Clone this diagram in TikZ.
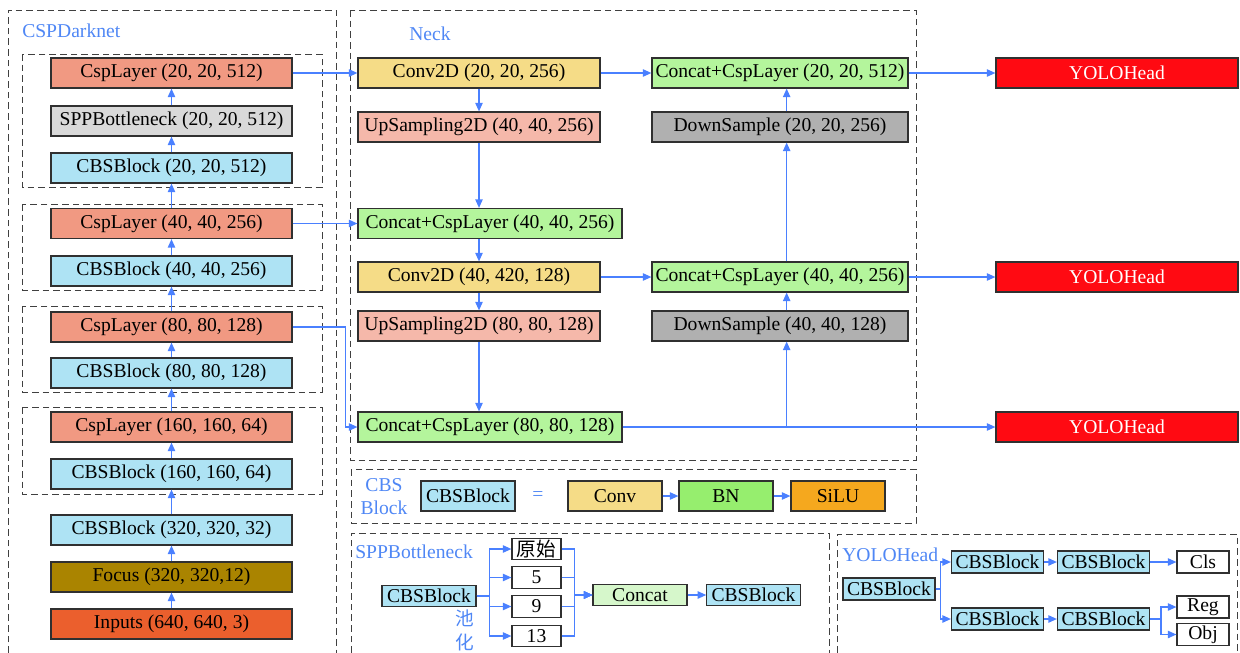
\documentclass[tikz,border=0pt]{standalone}
\usepackage{fontspec}
\setmainfont{Liberation Serif}
\newfontfamily\cjkfont{Noto Sans CJK SC}
\usetikzlibrary{arrows.meta}
\definecolor{lineblue}{HTML}{4A80FF}
\definecolor{labelblue}{HTML}{4F87F5}
\definecolor{framegray}{HTML}{404040}
\definecolor{edgegray}{HTML}{303030}
\definecolor{cspsalmon}{HTML}{F19982}
\definecolor{sppgray}{HTML}{D9D9D9}
\definecolor{cbsblue}{HTML}{AEE3F4}
\definecolor{focusolive}{HTML}{AA8400}
\definecolor{inputorange}{HTML}{EB5F2D}
\definecolor{convyellow}{HTML}{F5DC87}
\definecolor{uppink}{HTML}{F5B8AA}
\definecolor{concatgreen}{HTML}{B4F59C}
\definecolor{downgray}{HTML}{B0B0B0}
\definecolor{headred}{HTML}{FF0A12}
\definecolor{bngreen}{HTML}{96EE6E}
\definecolor{siluorange}{HTML}{F5A81E}
\definecolor{catlight}{HTML}{D6F7CB}
\newcommand{\figuretext}{\fontsize{14.7}{17.25}\selectfont}
\newcommand{\pooltext}{\fontsize{14}{18}\selectfont\cjkfont}

\begin{document}
\begin{tikzpicture}[x=0.75pt,y=-0.75pt,font=\figuretext,
  blk/.style={draw=edgegray,line width=0.8pt,inner sep=0pt,minimum height=22.5pt},
  bone/.style={blk,minimum width=180.75pt},
  neckbox/.style={blk,minimum width=181.5pt},
  catbox/.style={blk,fill=concatgreen,minimum width=198pt},
  panbox/.style={blk,minimum width=192pt},
  headbox/.style={blk,fill=headred,text=white,minimum width=181.5pt},
  unitbox/.style={blk,minimum width=70.5pt},
  tinybox/.style={draw=edgegray,line width=0.8pt,inner sep=0pt,minimum height=16pt},
  frame/.style={draw=framegray,line width=0.75pt,dash pattern=on 5pt off 3pt},
  flow/.style={draw=lineblue,line width=1.2pt,-{Triangle[length=6.5pt,width=5.5pt]}},
  title/.style={text=labelblue,inner sep=0pt}]
\useasboundingbox (0,0) rectangle (1240,653);

\draw[frame] (8,653) |- (336,10) -- (336,653);
\draw[frame] (22,54) rectangle (322,187);
\draw[frame] (22,204) rectangle (322,290);
\draw[frame] (22,306) rectangle (322,392);
\draw[frame] (22,407) rectangle (322,494);
\draw[frame] (350,10) rectangle (916,460);
\draw[frame] (351,469) rectangle (916,523);
\draw[frame] (351,653) |- (829,533) -- (829,653);
\draw[frame] (837,653) |- (1237,534) -- (1237,653);

\node[title,anchor=west] (darktitle) at (22,31) {CSPDarknet};
\node[bone,fill=cspsalmon] (csp20) at (171.5,73) {CspLayer (20, 20, 512)};
\node[bone,fill=sppgray] (spp) at (171.5,121) {SPPBottleneck (20, 20, 512)};
\node[bone,fill=cbsblue] (cbs20) at (171.5,168) {CBSBlock (20, 20, 512)};
\node[bone,fill=cspsalmon] (csp40) at (171.5,223.5) {CspLayer (40, 40, 256)};
\node[bone,fill=cbsblue] (cbs40) at (171.5,271) {CBSBlock (40, 40, 256)};
\node[bone,fill=cspsalmon] (csp80) at (171.5,327) {CspLayer (80, 80, 128)};
\node[bone,fill=cbsblue] (cbs80) at (171.5,373) {CBSBlock (80, 80, 128)};
\node[bone,fill=cspsalmon] (csp160) at (171.5,427) {CspLayer (160, 160, 64)};
\node[bone,fill=cbsblue] (cbs160) at (171.5,474) {CBSBlock (160, 160, 64)};
\node[bone,fill=cbsblue] (cbs320) at (171.5,530) {CBSBlock (320, 320, 32)};
\node[bone,fill=focusolive] (focus) at (171.5,577) {Focus (320, 320,12)};
\node[bone,fill=inputorange] (inputs) at (171.5,624) {Inputs (640, 640, 3)};

\node[title] (necktitle) at (430,34) {Neck};
\node[neckbox,fill=convyellow] (conv20) at (479,73) {Conv2D (20, 20, 256)};
\node[neckbox,fill=uppink] (up40) at (479,127) {UpSampling2D (40, 40, 256)};
\node[catbox] (cat40) at (490,223.5) {Concat+CspLayer (40, 40, 256)};
\node[neckbox,fill=convyellow] (conv40) at (479,277) {Conv2D (40, 420, 128)};
\node[neckbox,fill=uppink] (up80) at (479,326) {UpSampling2D (80, 80, 128)};
\node[catbox] (cat80) at (490,427) {Concat+CspLayer (80, 80, 128)};
\node[panbox,fill=concatgreen] (pan20) at (780,73) {Concat+CspLayer (20, 20, 512)};
\node[panbox,fill=downgray] (down20) at (780,127) {DownSample (20, 20, 256)};
\node[panbox,fill=concatgreen] (pan40) at (780,277) {Concat+CspLayer (40, 40, 256)};
\node[panbox,fill=downgray] (down40) at (780,326) {DownSample (40, 40, 128)};
\node[headbox] (head20) at (1117,73) {YOLOHead};
\node[headbox] (head40) at (1117,277) {YOLOHead};
\node[headbox] (head80) at (1117,427) {YOLOHead};

\node[title,align=center] (cbstitle) at (384,496.5) {CBS\\Block};
\node[unitbox,fill=cbsblue] (cbsdef) at (468,496) {CBSBlock};
\node[title] (eqsign) at (538,496) {=};
\node[unitbox,fill=convyellow] (unitconv) at (615,496) {Conv};
\node[unitbox,fill=bngreen] (unitbn) at (726,496) {BN};
\node[unitbox,fill=siluorange] (unitsilu) at (838,496) {SiLU};

\node[title,anchor=west] (spptitle) at (355,552) {SPPBottleneck};
\node[tinybox,fill=cbsblue,minimum width=70.5pt] (sppin) at (429,596) {CBSBlock};
\node[tinybox,fill=white,minimum width=36.75pt] (pool0) at (536.5,549) {\cjkfont 原始};
\node[tinybox,fill=white,minimum width=36.75pt] (pool5) at (536.5,577.5) {5};
\node[tinybox,fill=white,minimum width=36.75pt] (pool9) at (536.5,606.5) {9};
\node[tinybox,fill=white,minimum width=36.75pt] (pool13) at (536.5,636) {13};
\node[tinybox,fill=catlight,minimum width=70.5pt] (sppcat) at (640,595) {Concat};
\node[tinybox,fill=cbsblue,minimum width=70pt] (sppout) at (753.5,595) {CBSBlock};
\node[title,align=center,font=\pooltext] (pooltitle) at (465,630) {池\\化};

\node[title,anchor=west] (headtitle) at (842,555) {YOLOHead};
\node[tinybox,fill=cbsblue,minimum width=69pt,minimum height=16.5pt] (headin) at (889,589) {CBSBlock};
\node[tinybox,fill=cbsblue,minimum width=69pt,minimum height=16.5pt] (clsa) at (997.5,562) {CBSBlock};
\node[tinybox,fill=cbsblue,minimum width=69pt,minimum height=16.5pt] (clsb) at (1103.5,562) {CBSBlock};
\node[tinybox,fill=white,minimum width=39pt,minimum height=16.5pt] (clsout) at (1203,562) {Cls};
\node[tinybox,fill=cbsblue,minimum width=69pt,minimum height=16.5pt] (rega) at (997.5,619) {CBSBlock};
\node[tinybox,fill=cbsblue,minimum width=69pt,minimum height=16.5pt] (regb) at (1103.5,619) {CBSBlock};
\node[tinybox,fill=white,minimum width=39pt,minimum height=16.5pt] (regout) at (1203,607) {Reg};
\node[tinybox,fill=white,minimum width=39pt,minimum height=16.5pt] (objout) at (1203,634.5) {Obj};

\draw[flow] (inputs) -- (focus);
\draw[flow] (focus) -- (cbs320);
\draw[flow] (cbs320) -- (cbs160);
\draw[flow] (cbs160) -- (csp160);
\draw[flow] (csp160) -- (cbs80);
\draw[flow] (cbs80) -- (csp80);
\draw[flow] (csp80) -- (cbs40);
\draw[flow] (cbs40) -- (csp40);
\draw[flow] (csp40) -- (cbs20);
\draw[flow] (cbs20) -- (spp);
\draw[flow] (spp) -- (csp20);

\draw[flow] (csp20) -- (conv20);
\draw[flow] (csp40.east) -- (cat40.west);
\draw[flow] (csp80.east) -- ++(53,0) |- (cat80.west);
\draw[flow] (conv20) -- (up40);
\draw[flow] (up40) -- (up40 |- cat40.north);
\draw[flow] (conv40 |- cat40.south) -- (conv40);
\draw[flow] (conv40) -- (up80);
\draw[flow] (up80) -- (up80 |- cat80.north);
\draw[flow] (conv20) -- (pan20);
\draw[flow] (conv40) -- (pan40);
\draw[flow] (cat80.east) -- (head80.west);
\draw[flow] ([xshift=5pt]cat80.east -| down40) -- ([xshift=5pt]down40.south);
\draw[flow] ([xshift=5pt]down40.north) -- ([xshift=5pt]pan40.south);
\draw[flow] ([xshift=5pt]pan40.north) -- ([xshift=5pt]down20.south);
\draw[flow] ([xshift=5pt]down20.north) -- ([xshift=5pt]pan20.south);
\draw[flow] (pan20) -- (head20);
\draw[flow] (pan40) -- (head40);

\draw[flow] (unitconv) -- (unitbn);
\draw[flow] (unitbn) -- (unitsilu);

\draw[flow] (sppin.east) -- ++(13,0) |- (pool0.west);
\draw[flow] (sppin.east) -- ++(13,0) |- (pool5.west);
\draw[flow] (sppin.east) -- ++(13,0) |- (pool9.west);
\draw[flow] (sppin.east) -- ++(13,0) |- (pool13.west);
\draw[flow] (pool0.east) -- ++(13,0) |- (sppcat.west);
\draw[flow] (pool5.east) -- ++(13,0) |- (sppcat.west);
\draw[flow] (pool9.east) -- ++(13,0) |- (sppcat.west);
\draw[flow] (pool13.east) -- ++(13,0) |- (sppcat.west);
\draw[flow] (sppcat) -- (sppout);

\draw[flow] (headin.east) -- ++(5,0) |- (clsa.west);
\draw[flow] (headin.east) -- ++(5,0) |- (rega.west);
\draw[flow] (clsa) -- (clsb);
\draw[flow] (clsb) -- (clsout);
\draw[flow] (rega) -- (regb);
\draw[flow] (regb.east) -- ++(11,0) |- (regout.west);
\draw[flow] (regb.east) -- ++(11,0) |- (objout.west);
\end{tikzpicture}
\end{document}
